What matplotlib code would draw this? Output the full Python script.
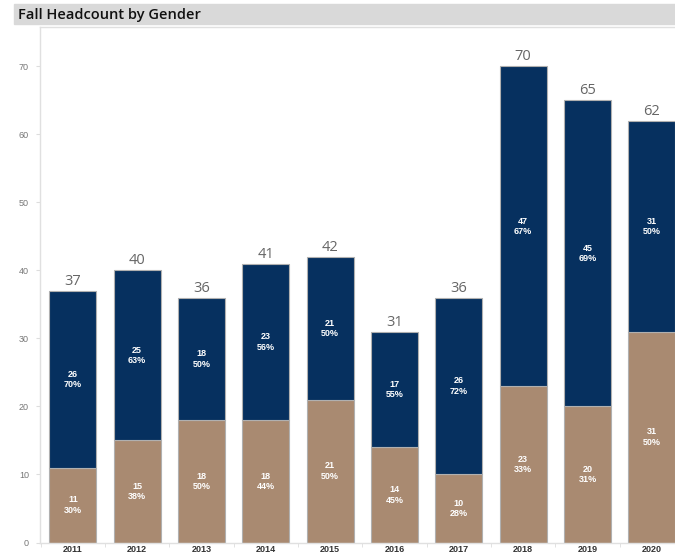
import numpy as np
import matplotlib.pyplot as plt
from matplotlib.patches import Rectangle

years = ["2011", "2012", "2013", "2014", "2015", "2016", "2017", "2018", "2019", "2020"]
female = [11, 15, 18, 18, 21, 14, 10, 23, 20, 31]
male = [26, 25, 18, 23, 21, 17, 26, 47, 45, 31]
female_pct = ["30%", "38%", "50%", "44%", "50%", "45%", "28%", "33%", "31%", "50%"]
male_pct = ["70%", "63%", "50%", "56%", "50%", "55%", "72%", "67%", "69%", "50%"]

TAN = "#a98a71"
NAVY = "#06305f"

plt.rcParams['font.family'] = ['Liberation Sans', 'DejaVu Sans']

fig = plt.figure(figsize=(6.75, 5.54), dpi=100)
W, H = 675, 554

# title bar
fig.patches.append(Rectangle((14 / W, 1 - 24 / H), (W - 14) / W, 20 / H,
                             transform=fig.transFigure, color="#d9d9d9", zorder=0))
fig.text(18 / W, 1 - 14.5 / H, "Fall Headcount by Gender", fontsize=10.5, family="Open Sans",
         fontweight="semibold", va="center", ha="left", color="#111111")

ax = fig.add_axes([40 / W, 1 - 542.5 / H, (W - 40) / W, (542.5 - 27) / H])
x = np.arange(len(years))
w = 0.73
total = [f + m for f, m in zip(female, male)]

ax.bar(x, female, width=w, color=TAN, edgecolor="#b0b0b0", linewidth=0.8, zorder=2)
ax.bar(x, male, width=w, bottom=female, color=NAVY, edgecolor="#b0b0b0", linewidth=0.8, zorder=2)

for i in range(len(years)):
    ax.text(x[i], female[i] / 2, f"{female[i]}\n{female_pct[i]}", ha="center", va="center",
            color="white", fontsize=6.5, fontweight="bold", linespacing=1.2, zorder=3)
    ax.text(x[i], female[i] + male[i] / 2, f"{male[i]}\n{male_pct[i]}", ha="center", va="center",
            color="white", fontsize=6.5, fontweight="bold", linespacing=1.2, zorder=3)
    ax.text(x[i], total[i] + 0.3, str(total[i]), ha="center", va="bottom", family="Open Sans",
            color="#666666", fontsize=10.5, zorder=3)

ax.set_xlim(-0.51, 9.36)
ax.set_ylim(0, 75.8)
ax.set_yticks(range(0, 80, 10))
ax.set_xticks(x)
ax.set_xticklabels(years, fontsize=6.5, fontweight="bold", color="#333333")
ax.set_xticks(np.arange(-0.5, 9.5, 1), minor=True)
ax.tick_params(axis="x", which="major", length=0, pad=1.5)
ax.tick_params(axis="x", which="minor", length=3, color="#dddddd")
ax.tick_params(axis="y", labelsize=6.5, labelcolor="#777777", length=3, color="#dddddd", pad=5)

for s in ["left", "top", "bottom"]:
    ax.spines[s].set_color("#e0e0e0")
    ax.spines[s].set_linewidth(1)
ax.spines["right"].set_visible(False)

fig.savefig("out.png", dpi=100)
